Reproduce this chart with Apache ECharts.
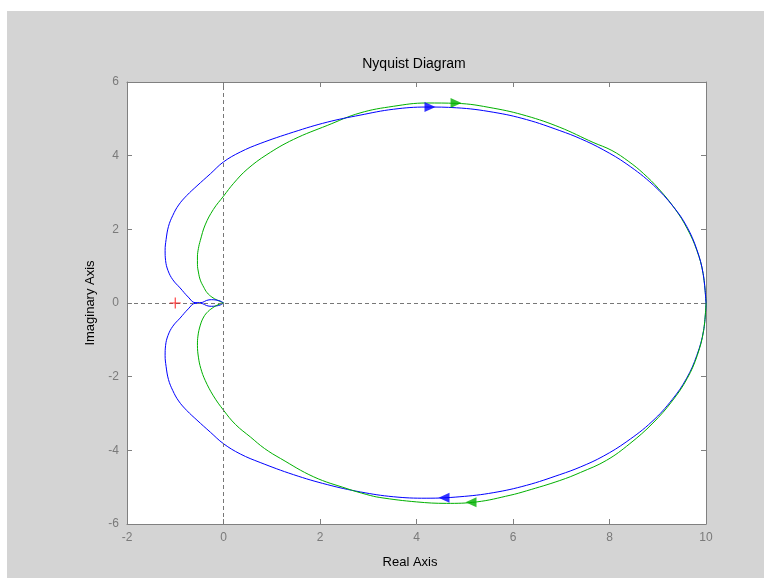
<!DOCTYPE html>
<html>
<head>
<meta charset="utf-8">
<script src="https://cdn.jsdelivr.net/npm/echarts@6/dist/echarts.min.js"></script>
<style>
html,body{margin:0;padding:0;background:#ffffff;}
#c{position:absolute;left:7px;top:11px;width:757px;height:567px;background:#d4d4d4;}
</style>
</head>
<body>
<div id="c"></div>
<script>
// ---- data ----
var titleText = 'Nyquist Diagram';
var xName = 'Real Axis';
var yName = 'Imaginary Axis';
var xTicks = [-2, 0, 2, 4, 6, 8, 10];
var yTicks = [-6, -4, -2, 0, 2, 4, 6];

// blue curve, upper half (origin -> 10)
var blueUpper = [
  [0,0],[-0.06,0.05],[-0.15,0.08],[-0.25,0.09],[-0.35,0.07],[-0.43,0.02],[-0.5,0.01],[-0.59,0.01],
  [-0.73,0.16],[-0.90,0.41],[-1.05,0.63],[-1.15,0.88],[-1.20,1.15],[-1.21,1.43],[-1.19,1.72],[-1.14,2.08],
  [-1.05,2.38],[-0.93,2.66],[-0.76,2.92],[-0.55,3.18],[-0.27,3.51],
  [0.00,3.83],[0.35,4.10],[0.76,4.33],[1.45,4.64],[2.15,4.91],[2.83,5.10],[3.52,5.26],[4.21,5.32],[4.83,5.30],
  [5.59,5.18],[6.28,4.98],[6.97,4.68],[7.40,4.46],[7.87,4.16],[8.36,3.77],[8.91,3.20],[9.32,2.62],
  [9.60,2.08],[9.81,1.45],[9.94,0.80],[10.0,0.0]
];
// blue curve, lower half (10 -> origin)
var blueLower = [
  [10.0,0.0],[9.95,-0.75],[9.81,-1.42],[9.60,-2.04],[9.30,-2.62],[8.88,-3.22],[8.36,-3.76],[7.87,-4.16],
  [7.40,-4.45],[6.97,-4.66],[6.28,-4.95],[5.59,-5.15],[4.90,-5.26],[4.20,-5.30],[3.52,-5.26],[2.84,-5.13],
  [2.15,-4.93],[1.45,-4.66],[0.76,-4.33],[0.35,-4.10],[0.00,-3.82],[-0.27,-3.51],[-0.55,-3.18],
  [-0.76,-2.92],[-0.93,-2.66],[-1.05,-2.38],[-1.14,-2.08],[-1.19,-1.72],[-1.21,-1.43],[-1.20,-1.15],
  [-1.15,-0.88],[-1.05,-0.63],[-0.90,-0.41],[-0.73,-0.16],[-0.59,-0.01],
  [-0.5,-0.01],[-0.43,-0.02],[-0.35,-0.07],[-0.25,-0.09],[-0.15,-0.08],[-0.06,-0.05],[0,0]
];
// green curve, upper half (origin -> 10)
var greenUpper = [
  [0,0],[-0.12,0.07],[-0.24,0.16],[-0.34,0.28],[-0.41,0.43],[-0.48,0.62],[-0.52,0.84],[-0.54,1.05],
  [-0.54,1.25],[-0.52,1.48],[-0.48,1.70],[-0.38,2.12],[-0.21,2.54],[0.00,2.90],[0.21,3.25],[0.49,3.63],
  [0.90,4.03],[1.45,4.44],[2.15,4.82],[2.83,5.16],[3.52,5.34],[4.21,5.43],[4.83,5.42],[5.59,5.29],
  [6.28,5.08],[6.97,4.77],[7.66,4.36],[8.05,4.14],[8.40,3.84],[8.70,3.52],[9.02,3.10],[9.36,2.55],
  [9.61,2.02],[9.81,1.43],[9.94,0.80],[10.0,0.0]
];
// green curve, lower half (10 -> origin)
var greenLower = [
  [10.0,0.0],[9.95,-0.75],[9.82,-1.42],[9.61,-2.05],[9.30,-2.66],[8.90,-3.26],[8.42,-3.82],[7.94,-4.27],
  [7.40,-4.60],[6.97,-4.82],[6.28,-5.10],[5.94,-5.22],[5.25,-5.40],[4.62,-5.44],[4.00,-5.40],[3.24,-5.28],
  [2.97,-5.20],[2.56,-5.04],[1.87,-4.72],[1.18,-4.22],[0.85,-3.95],[0.56,-3.64],[0.25,-3.30],[0.00,-2.91],
  [-0.21,-2.52],[-0.38,-2.10],[-0.47,-1.78],[-0.52,-1.47],[-0.54,-1.15],[-0.53,-0.90],[-0.48,-0.60],
  [-0.41,-0.38],[-0.32,-0.23],[-0.20,-0.11],[-0.12,-0.05],[0,0]
];
// direction arrows [x, y]
var blueArrowRight = [[4.28,5.32]];
var blueArrowLeft = [[4.57,-5.29]];
var greenArrowRight = [[4.82,5.43]];
var greenArrowLeft = [[5.13,-5.41]];
// critical point
var critical = [[-1,0]];

var blueColor = '#0000ff';
var greenColor = '#00b000';

var chart = echarts.init(document.getElementById('c'), null, {renderer:'canvas'});

function xAxisCfg(pos, showLabel){
  return {
    type:'value', position:pos, min:-2, max:10, interval:2,
    axisLine:{show:true, onZero:false, lineStyle:{color:'#808080', width:1}},
    axisTick:{show:true, inside:true, length:5, lineStyle:{color:'#808080'}},
    axisLabel:{show:showLabel, color:'#7a7a7a', fontSize:12, fontFamily:'Liberation Sans, Arial, sans-serif', margin:8},
    splitLine:{show:false}
  };
}
function yAxisCfg(pos, showLabel){
  return {
    type:'value', position:pos, min:-6, max:6, interval:2,
    axisLine:{show:true, onZero:false, lineStyle:{color:'#808080', width:1}},
    axisTick:{show:true, inside:true, length:5, lineStyle:{color:'#808080'}},
    axisLabel:{show:showLabel, color:'#7a7a7a', fontSize:12, fontFamily:'Liberation Sans, Arial, sans-serif', margin:8},
    splitLine:{show:false}
  };
}

function curve(data, color){
  return {
    type:'line', data:data, xAxisIndex:0, yAxisIndex:0,
    showSymbol:false, symbol:'none', smooth:0.4, animation:false,
    lineStyle:{color:color, width:1}, itemStyle:{color:color}, silent:true,
    emphasis:{disabled:true}
  };
}
function arrows(data, color, rot){
  return {
    type:'scatter', data:data, xAxisIndex:0, yAxisIndex:0,
    symbol:'triangle', symbolSize:[10,11], symbolRotate:rot,
    itemStyle:{color:color}, animation:false, silent:true, z:5
  };
}

var gs = curve(greenUpper, greenColor);
gs.markLine = {
  silent:true, symbol:'none', animation:false,
  label:{show:false},
  lineStyle:{color:'#777777', type:[4,3], width:1},
  data:[{xAxis:0},{yAxis:0}]
};

chart.setOption({
  animation:false,
  grid:{left:120, top:71, right:58, bottom:54, show:true, backgroundColor:'#ffffff', borderWidth:0},
  xAxis:[xAxisCfg('bottom', true), xAxisCfg('top', false)],
  yAxis:[yAxisCfg('left', true), yAxisCfg('right', false)],
  graphic:[
    {type:'text', x:407, y:53, style:{text:titleText, fill:'#000', font:'14px "Liberation Sans", Arial, sans-serif', textAlign:'center', textVerticalAlign:'middle'}},
    {type:'text', x:403, y:551, style:{text:xName, fill:'#000', font:'13px "Liberation Sans", Arial, sans-serif', textAlign:'center', textVerticalAlign:'middle'}},
    {type:'text', x:83, y:292, rotation:Math.PI/2, style:{text:yName, fill:'#000', font:'13px "Liberation Sans", Arial, sans-serif', textAlign:'center', textVerticalAlign:'middle'}}
  ],
  series:[
    gs,
    curve(blueUpper, blueColor),
    curve(blueLower, blueColor),
    curve(greenLower, greenColor),
    arrows(blueArrowRight, blueColor, -90),
    arrows(blueArrowLeft, blueColor, 90),
    arrows(greenArrowRight, greenColor, -90),
    arrows(greenArrowLeft, greenColor, 90),
    {
      type:'scatter', data:critical, xAxisIndex:0, yAxisIndex:0,
      symbol:'path://M0,4.5H10V5.5H0Z M4.5,0H5.5V10H4.5Z', symbolSize:11,
      itemStyle:{color:'#ff0000'}, animation:false, silent:true, z:6
    }
  ]
});
</script>
</body>
</html>
